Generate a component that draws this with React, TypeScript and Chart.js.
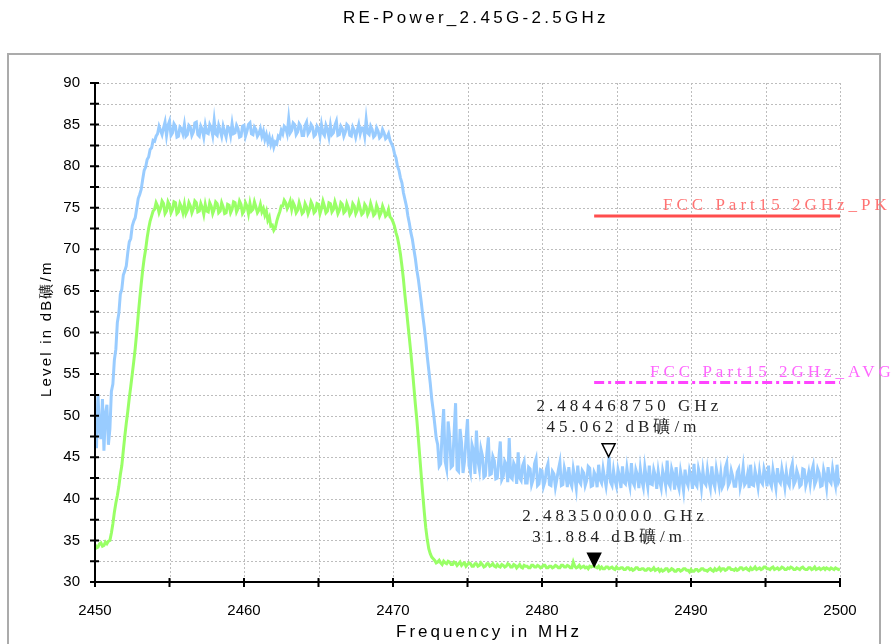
import React, { useEffect, useRef } from 'react';
import { Chart, registerables } from 'chart.js';

Chart.register(...registerables);

// ---- data ----
const CHART_TITLE = 'RE-Power_2.45G-2.5GHz';
const X_TITLE = 'Frequency in MHz';
const Y_TITLE = 'Level in dB礦/m';

// sweep: 2450 MHz .. 2500 MHz, one reading every 0.1 MHz (one row = 1 MHz)
const FREQ_START = 2450;
const FREQ_STEP = 0.1;

const peakLevel = [
  49.0, 46.1, 52.6, 48.3, 47.2, 52.0, 45.8, 50.2, 51.3, 46.5,
  48.4, 52.9, 53.8, 56.7, 58.0, 61.2, 62.3, 64.6, 65.2, 66.9,
  67.4, 68.0, 69.6, 70.9, 71.3, 72.8, 73.4, 73.8, 74.9, 76.1,
  76.6, 77.2, 78.4, 79.5, 79.9, 80.8, 81.1, 82.0, 82.2, 83.1,
  83.0, 83.6, 83.9, 84.8, 84.3, 83.8, 84.6, 85.3, 83.7, 84.9,
  85.4, 83.7, 84.0, 85.1, 84.8, 83.5, 83.6, 84.7, 84.5, 83.9,
  85.0, 83.6, 83.8, 84.9, 84.7, 83.7, 84.1, 85.2, 85.3, 83.8,
  83.6, 84.8, 84.4, 83.5, 84.9, 84.0, 83.9, 85.0, 84.6, 83.7,
  85.5, 83.9, 83.7, 84.9, 84.3, 83.6, 84.8, 84.1, 83.5, 84.7,
  84.6, 83.7, 85.1, 83.9, 84.0, 84.9, 84.5, 83.5, 83.6, 84.8,
  84.9, 83.6, 84.2, 85.0, 85.2, 83.9, 83.8, 84.7, 84.4, 83.6,
  83.9, 84.5, 83.6, 84.2, 83.2, 83.8, 82.9, 83.5, 82.6, 83.2,
  82.3, 82.9, 82.7, 83.6, 83.4, 84.3, 83.9, 84.8, 84.6, 83.9,
  85.7, 84.0, 84.3, 85.2, 85.0, 83.8, 84.1, 85.1, 84.8, 83.7,
  83.7, 84.9, 85.3, 83.9, 84.2, 85.0, 84.7, 83.6, 83.8, 84.8,
  84.5, 83.6, 85.0, 84.0, 83.7, 84.9, 84.4, 83.5, 84.9, 83.8,
  84.0, 84.9, 85.4, 83.7, 83.8, 84.8, 84.5, 83.6, 84.1, 85.0,
  84.8, 83.7, 83.6, 84.7, 84.3, 83.5, 84.3, 85.0, 83.9, 84.6,
  84.6, 83.6, 85.6, 84.0, 83.8, 84.8, 84.4, 83.5, 83.7, 84.6,
  84.2, 83.4, 83.6, 84.4, 84.0, 83.3, 83.5, 83.9, 83.1, 82.7,
  82.3, 81.5, 81.0, 80.0, 79.5, 78.6, 78.0, 76.8, 76.0, 75.2,
  74.0, 73.1, 72.0, 71.2, 70.0, 68.9, 67.5, 66.4, 65.0, 63.6,
  62.0, 60.6, 59.0, 57.1, 55.5, 53.9, 52.0, 50.6, 49.0, 47.3,
  46.5, 43.9, 44.2, 48.0, 50.8, 44.5, 43.6, 49.3, 47.5, 43.8,
  44.0, 47.9, 51.5, 43.5, 43.3, 48.4, 46.8, 43.1, 44.5, 47.2,
  49.6, 44.0, 43.2, 46.5, 45.8, 43.0, 48.2, 44.6, 43.5, 46.0,
  45.2, 42.6, 42.8, 45.5, 47.4, 42.9, 43.0, 45.1, 44.6, 42.4,
  42.5, 44.8, 46.9, 42.3, 42.7, 44.5, 44.1, 42.0, 47.3, 42.6,
  42.4, 44.3, 43.9, 41.8, 45.6, 42.5, 42.2, 44.0, 44.5, 41.9,
  41.9, 43.8, 43.6, 41.7, 42.3, 44.2, 44.8, 41.6, 41.8, 43.5,
  43.4, 41.5, 42.1, 43.6, 44.2, 41.7, 41.6, 43.3, 43.0, 41.4,
  42.4, 43.5, 44.4, 41.6, 41.7, 43.7, 42.9, 41.4, 43.8, 42.0,
  41.5, 43.6, 42.6, 41.3, 44.0, 42.1, 41.8, 43.4, 43.1, 41.6,
  42.2, 43.9, 43.7, 41.5, 41.6, 43.2, 42.8, 41.4, 44.1, 42.3,
  41.9, 43.6, 42.5, 41.5, 43.0, 45.06, 42.0, 41.6, 43.4, 42.2,
  41.5, 43.5, 42.7, 41.3, 43.9, 42.0, 41.8, 43.7, 42.4, 41.5,
  44.3, 42.0, 41.6, 43.5, 42.9, 41.3, 43.6, 42.2, 41.4, 43.8,
  42.5, 41.4, 44.0, 41.8, 41.7, 43.5, 42.8, 41.2, 43.3, 42.1,
  41.3, 43.4, 42.6, 41.6, 44.6, 41.9, 41.5, 43.6, 42.9, 41.1,
  43.8, 41.9, 41.2, 43.3, 42.3, 41.0, 43.5, 42.1, 41.6, 43.4,
  42.7, 41.2, 44.2, 41.8, 41.5, 43.6, 42.8, 41.3, 43.4, 42.0,
  41.7, 43.5, 42.2, 41.3, 43.9, 42.0, 41.4, 43.6, 42.6, 41.5,
  43.1, 41.4, 41.8, 43.7, 44.3, 41.6, 42.0, 43.4, 42.7, 41.5,
  41.5, 43.2, 43.6, 41.4, 42.3, 43.8, 41.7, 42.0, 43.0, 41.3,
  44.1, 41.7, 41.6, 43.4, 42.5, 41.4, 43.3, 42.1, 41.8, 43.6,
  42.9, 41.5, 44.0, 42.0, 41.5, 43.5, 42.4, 41.3, 43.7, 42.2,
  41.9, 43.6, 42.6, 41.4, 43.2, 42.0, 41.6, 43.5, 44.2, 41.7,
  42.1, 43.4, 42.8, 41.5, 41.7, 43.6, 43.5, 41.6, 42.3, 43.2,
  41.8, 43.3, 44.0, 41.7, 42.2, 43.6, 43.1, 41.5, 41.6, 43.5,
  42.7, 41.4, 43.8, 42.2, 41.9, 43.6, 42.5, 41.6, 44.1, 42.0,
  42.4,
];

const avgLevel = [
  34.5, 34.1, 34.2, 34.6, 34.7, 34.3, 34.4, 34.8, 34.6, 34.9,
  35.0, 35.9, 37.0, 38.4, 39.5, 40.4, 41.5, 42.9, 44.0, 45.8,
  47.5, 49.1, 50.5, 52.1, 53.5, 55.0, 56.5, 58.1, 60.0, 62.1,
  64.0, 65.8, 67.5, 68.9, 70.0, 71.4, 72.5, 73.4, 74.0, 74.6,
  74.8, 75.6, 75.2, 74.4, 74.9, 75.8, 75.5, 74.3, 74.6, 75.7,
  75.3, 74.4, 74.8, 75.7, 75.6, 74.3, 74.5, 75.5, 75.1, 74.4,
  75.4, 74.3, 74.7, 75.6, 75.2, 74.4, 74.9, 75.8, 75.6, 74.5,
  74.6, 75.5, 75.0, 74.2, 75.4, 74.6, 74.5, 75.6, 75.2, 74.3,
  74.8, 75.7, 75.5, 74.4, 74.6, 75.6, 75.1, 74.3, 74.4, 75.4,
  75.3, 74.4, 74.8, 75.7, 75.6, 74.5, 74.9, 75.8, 75.4, 74.3,
  74.6, 75.6, 75.2, 74.3, 75.5, 74.6, 74.8, 75.7, 75.1, 74.4,
  74.7, 75.4, 74.5, 74.9, 74.1, 74.6, 73.5, 73.9, 72.8, 72.9,
  72.3, 72.6, 73.4, 74.0, 74.5, 75.2, 75.2, 75.9, 75.6, 74.9,
  75.3, 75.8, 74.8, 75.6, 75.2, 74.4, 74.7, 75.6, 75.0, 74.3,
  74.5, 75.5, 75.1, 74.3, 74.8, 75.7, 75.3, 74.4, 74.6, 75.5,
  75.4, 74.3, 74.9, 75.8, 75.2, 74.4, 74.6, 75.6, 75.5, 74.5,
  74.8, 75.7, 75.1, 74.3, 74.7, 75.6, 75.4, 74.4, 74.6, 75.5,
  75.0, 74.2, 74.5, 75.5, 75.2, 74.3, 74.7, 75.6, 74.9, 74.2,
  74.4, 75.4, 75.1, 74.2, 74.6, 75.5, 74.9, 74.1, 74.3, 75.3,
  74.8, 74.0, 74.4, 75.2, 74.7, 74.0, 74.2, 74.8, 73.9, 73.7,
  73.3, 72.8, 72.0, 71.4, 70.5, 69.4, 68.0, 66.4, 64.5, 62.8,
  61.0, 59.3, 57.5, 55.6, 53.5, 51.4, 49.5, 47.3, 45.0, 42.7,
  40.5, 38.4, 36.5, 35.1, 34.0, 33.4, 33.0, 32.8, 32.6, 32.3,
  32.4, 32.6, 32.3, 32.1, 32.5, 32.3, 32.2, 32.5, 32.4, 32.1,
  32.1, 32.4, 32.3, 32.0, 32.2, 32.4, 32.0, 32.2, 32.3, 31.9,
  32.1, 32.3, 32.2, 31.9, 31.9, 32.2, 32.2, 31.9, 32.0, 32.3,
  32.1, 31.8, 31.9, 32.2, 32.2, 31.9, 32.0, 32.2, 31.9, 31.8,
  32.1, 31.9, 31.8, 32.1, 32.0, 31.8, 31.9, 32.2, 32.1, 31.8,
  31.8, 32.1, 32.0, 31.7, 31.9, 32.1, 31.8, 31.7, 32.0, 31.9,
  31.9, 31.7, 31.7, 32.0, 32.0, 31.8, 31.8, 32.0, 31.9, 31.7,
  31.8, 32.0, 32.0, 31.7, 31.7, 31.9, 31.9, 31.7, 31.8, 32.0,
  31.9, 31.7, 31.7, 32.0, 32.0, 31.8, 31.8, 32.0, 31.9, 31.7,
  31.7, 32.4, 31.9, 31.7, 31.8, 32.0, 31.7, 31.8, 31.9, 31.7,
  31.8, 31.6, 31.9, 31.8, 31.9, 31.88, 31.8, 31.7, 31.9, 31.6,
  31.8, 31.6, 31.6, 31.8, 31.8, 31.6, 31.7, 31.8, 31.6, 31.5,
  31.8, 31.6, 31.6, 31.7, 31.7, 31.5, 31.5, 31.7, 31.7, 31.5,
  31.6, 31.4, 31.5, 31.7, 31.7, 31.5, 31.5, 31.6, 31.6, 31.4,
  31.4, 31.6, 31.6, 31.4, 31.5, 31.7, 31.4, 31.5, 31.6, 31.3,
  31.5, 31.3, 31.4, 31.6, 31.6, 31.3, 31.4, 31.6, 31.5, 31.3,
  31.3, 31.5, 31.5, 31.3, 31.4, 31.6, 31.6, 31.4, 31.4, 31.2,
  31.5, 31.3, 31.3, 31.5, 31.5, 31.3, 31.4, 31.6, 31.6, 31.4,
  31.4, 31.3, 31.5, 31.6, 31.4, 31.3, 31.6, 31.4, 31.5, 31.7,
  31.4, 31.6, 31.6, 31.4, 31.5, 31.7, 31.7, 31.5, 31.5, 31.4,
  31.6, 31.4, 31.5, 31.7, 31.7, 31.5, 31.6, 31.7, 31.5, 31.4,
  31.7, 31.5, 31.6, 31.8, 31.5, 31.6, 31.7, 31.5, 31.6, 31.8,
  31.8, 31.6, 31.6, 31.5, 31.7, 31.8, 31.5, 31.6, 31.7, 31.5,
  31.6, 31.8, 31.7, 31.5, 31.5, 31.7, 31.6, 31.8, 31.7, 31.5,
  31.5, 31.7, 31.6, 31.5, 31.7, 31.8, 31.6, 31.5, 31.5, 31.7,
  31.7, 31.5, 31.6, 31.8, 31.5, 31.6, 31.7, 31.5, 31.6, 31.7,
  31.5, 31.7, 31.6, 31.5, 31.7, 31.6, 31.5, 31.7, 31.6, 31.5,
  31.6,
];

const limitFreq = [2483.5, 2500];
const pkLimit = [74, 74];
const avgLimit = [54, 54];
const limitNames = ['FCC Part15 2GHz_PK', 'FCC Part15 2GHz_AVG'];

const markerFreq = [2484.46875, 2483.5];
const markerLevel = [45.062, 31.884];
const markerFreqText = ['2.484468750 GHz', '2.483500000 GHz'];
const markerLevelText = ['45.062 dB礦/m', '31.884 dB礦/m'];
const markerFilled = [false, true];

const X_MIN = 2450;
const X_MAX = 2500;
const X_LABEL_STEP = 10;
const X_GRID_STEP = 5;
const Y_MIN = 30;
const Y_MAX = 90;
const Y_LABEL_STEP = 5;
const Y_GRID_STEP = 2.5;

// ---- styles ----
const PEAK_COLOR = '#99ccff';
const AVG_COLOR = '#99ff66';
const PK_LIMIT_COLOR = '#ff4d4d';
const PK_LABEL_COLOR = '#ff7373';
const AVG_LIMIT_COLOR = '#ff44ff';
const AVG_LABEL_COLOR = '#ff66ff';
const SERIF = '"Liberation Serif", "Times New Roman", serif';
const SANS = '"Liberation Sans", Arial, sans-serif';

const decorPlugin = {
  id: 'decor',
  beforeDraw(chart: any) {
    const ctx = chart.ctx as CanvasRenderingContext2D;
    ctx.save();
    ctx.fillStyle = '#ffffff';
    ctx.fillRect(0, 0, chart.width, chart.height);
    ctx.strokeStyle = '#ababab';
    ctx.lineWidth = 2;
    ctx.strokeRect(8, 54, 872, 620);
    ctx.fillStyle = '#000';
    ctx.font = `17px ${SANS}`;
    (ctx as any).letterSpacing = '3.3px';
    ctx.textBaseline = 'middle';
    ctx.textAlign = 'left';
    ctx.fillText(CHART_TITLE, 343, 18);
    ctx.restore();
  },
  beforeDatasetsDraw(chart: any) {
    const ctx = chart.ctx as CanvasRenderingContext2D;
    const { left, right, top, bottom } = chart.chartArea;
    const xs = chart.scales.x;
    const ys = chart.scales.y;
    ctx.save();
    ctx.strokeStyle = '#bdbdbd';
    ctx.lineWidth = 1;
    ctx.setLineDash([2, 2]);
    for (let v = Y_MIN + Y_GRID_STEP; v <= Y_MAX + 1e-9; v += Y_GRID_STEP) {
      const y = Math.round(ys.getPixelForValue(v)) + 0.5;
      ctx.beginPath();
      ctx.moveTo(left, y);
      ctx.lineTo(right, y);
      ctx.stroke();
    }
    for (let v = X_MIN + X_GRID_STEP; v <= X_MAX + 1e-9; v += X_GRID_STEP) {
      const x = Math.round(xs.getPixelForValue(v)) + 0.5;
      ctx.beginPath();
      ctx.moveTo(x, top);
      ctx.lineTo(x, bottom);
      ctx.stroke();
    }
    ctx.restore();
  },
  afterDatasetsDraw(chart: any) {
    const ctx = chart.ctx as CanvasRenderingContext2D;
    const { left, right, top, bottom } = chart.chartArea;
    const xs = chart.scales.x;
    const ys = chart.scales.y;
    ctx.save();
    ctx.strokeStyle = '#000';
    ctx.lineWidth = 2;
    ctx.beginPath();
    ctx.moveTo(left, top);
    ctx.lineTo(left, bottom);
    ctx.moveTo(left, bottom);
    ctx.lineTo(right, bottom);
    ctx.stroke();
    ctx.beginPath();
    for (let v = Y_MIN; v <= Y_MAX + 1e-9; v += Y_GRID_STEP) {
      const y = ys.getPixelForValue(v);
      ctx.moveTo(left - 5, y);
      ctx.lineTo(left + 4, y);
    }
    for (let v = X_MIN; v <= X_MAX + 1e-9; v += X_GRID_STEP) {
      const x = xs.getPixelForValue(v);
      ctx.moveTo(x, bottom - 4);
      ctx.lineTo(x, bottom + 5);
    }
    ctx.stroke();

    // limit labels
    ctx.font = `17px ${SERIF}`;
    (ctx as any).letterSpacing = '4px';
    ctx.textBaseline = 'middle';
    ctx.textAlign = 'left';
    ctx.fillStyle = PK_LABEL_COLOR;
    ctx.fillText(limitNames[0], right - 177, ys.getPixelForValue(pkLimit[1]) - 11);
    ctx.fillStyle = AVG_LABEL_COLOR;
    ctx.fillText(limitNames[1], right - 190, ys.getPixelForValue(avgLimit[1]) - 10);

    // markers
    for (let i = 0; i < markerFreq.length; i++) {
      const px = xs.getPixelForValue(markerFreq[i]);
      const py = ys.getPixelForValue(markerLevel[i]);
      ctx.beginPath();
      ctx.moveTo(px - 6.5, py - 13);
      ctx.lineTo(px + 6.5, py - 13);
      ctx.lineTo(px, py);
      ctx.closePath();
      ctx.lineWidth = 1.5;
      ctx.strokeStyle = '#000';
      ctx.fillStyle = markerFilled[i] ? '#000' : '#fff';
      ctx.fill();
      ctx.stroke();
      ctx.fillStyle = '#222';
      ctx.fillText(markerFreqText[i], px - 72, py - 50);
      ctx.fillText(markerLevelText[i], px - 62, py - 29);
    }

    // axis titles
    ctx.fillStyle = '#000';
    ctx.font = `17px ${SANS}`;
    (ctx as any).letterSpacing = '3px';
    ctx.textAlign = 'left';
    ctx.fillText(X_TITLE, 396, 632);
    ctx.translate(47, 397);
    ctx.rotate(-Math.PI / 2);
    ctx.font = `15px ${SANS}`;
    (ctx as any).letterSpacing = '2.2px';
    ctx.textAlign = 'left';
    ctx.fillText(Y_TITLE, 0, 0);
    ctx.restore();
  },
};

export default function App() {
  const ref = useRef<HTMLCanvasElement>(null);
  useEffect(() => {
    if (!ref.current) return;
    const freq = peakLevel.map((_, i) => Math.round((FREQ_START + FREQ_STEP * i) * 100) / 100);
    const chart = new Chart(ref.current, {
      type: 'line',
      data: {
        datasets: [
          {
            label: 'PK',
            data: freq.map((f, i) => ({ x: f, y: peakLevel[i] })),
            borderColor: PEAK_COLOR,
            borderWidth: 3,
            pointRadius: 0,
            tension: 0,
          },
          {
            label: 'AVG',
            data: freq.map((f, i) => ({ x: f, y: avgLevel[i] })),
            borderColor: AVG_COLOR,
            borderWidth: 3,
            pointRadius: 0,
            tension: 0,
          },
          {
            label: limitNames[0],
            data: limitFreq.map((f, i) => ({ x: f, y: pkLimit[i] })),
            borderColor: PK_LIMIT_COLOR,
            borderWidth: 3,
            pointRadius: 0,
          },
          {
            label: limitNames[1],
            data: limitFreq.map((f, i) => ({ x: f, y: avgLimit[i] })),
            borderColor: AVG_LIMIT_COLOR,
            borderWidth: 3,
            borderDash: [10, 4, 3, 4],
            pointRadius: 0,
          },
        ],
      },
      options: {
        responsive: false,
        animation: false,
        layout: { padding: { top: 83, right: 56, left: 0, bottom: 0 } },
        plugins: {
          legend: { display: false },
          tooltip: { enabled: false },
          title: { display: false },
        },
        scales: {
          x: {
            type: 'linear',
            min: X_MIN,
            max: X_MAX,
            grid: { display: false },
            border: { display: false },
            ticks: {
              stepSize: X_LABEL_STEP,
              autoSkip: false,
              maxRotation: 0,
              padding: 12,
              color: '#000',
              font: { family: SANS, size: 15 },
              callback: (v: any) => String(v),
            },
            afterFit: (s: any) => {
              s.height = 62;
            },
          },
          y: {
            type: 'linear',
            min: Y_MIN,
            max: Y_MAX,
            grid: { display: false },
            border: { display: false },
            ticks: {
              stepSize: Y_LABEL_STEP,
              padding: 7,
              color: '#000',
              font: { family: SANS, size: 15 },
              callback: (v: any) => String(v),
            },
            afterFit: (s: any) => {
              s.width = 95;
            },
          },
        },
      } as any,
      plugins: [decorPlugin],
    });
    return () => chart.destroy();
  }, []);
  return (
    <div style={{ position: 'absolute', left: 0, top: 0, width: 896, height: 644 }}>
      <canvas ref={ref} width={896} height={644} style={{ display: 'block' }} />
    </div>
  );
}
